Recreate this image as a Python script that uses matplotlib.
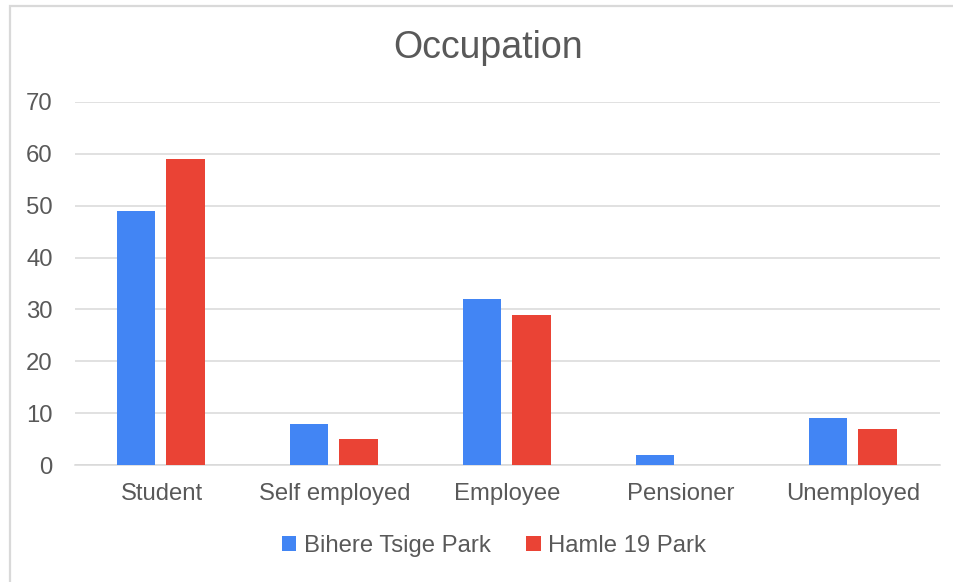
import matplotlib
matplotlib.use('Agg')
from matplotlib import pyplot as plt
from matplotlib.patches import Rectangle
import numpy as np

categories = ["Student", "Self employed", "Employee", "Pensioner", "Unemployed"]
bihere = [49, 8, 32, 2, 9]
hamle = [59, 5, 29, 0, 7]
series_names = ["Bihere Tsige Park", "Hamle 19 Park"]
yticks = [0, 10, 20, 30, 40, 50, 60, 70]

blue = "#4285F4"
red = "#EA4335"
textcol = "#595959"
gridcol = "#D9D9D9"

plt.rcParams['font.family'] = ['Liberation Sans', 'DejaVu Sans']

fig = plt.figure(figsize=(9.54, 5.82), dpi=100)
fig.patch.set_facecolor("white")

# outer chart border (only left/top visible, rest runs off the image)
fig.patches.append(Rectangle((10/954, -0.05), 1.1, (582-6)/582 + 0.05,
                             transform=fig.transFigure, fill=False,
                             edgecolor="#D9D9D9", linewidth=1.6))

ax = fig.add_axes([75/954, (582-465)/582, (940-75)/954, (465-102)/582])

x = np.arange(len(categories))
w = 0.225
off = w/2 + 0.03
ax.bar(x - off - 0.005, bihere, w, color=blue, label=series_names[0], zorder=3)
ax.bar(x + off - 0.005, hamle, w, color=red, label=series_names[1], zorder=3)

ax.set_xlim(-0.5, len(categories) - 0.5)
ax.set_ylim(0, 70)
ax.set_yticks(yticks)
ax.set_xticks(x)
ax.set_xticklabels(categories)
ax.tick_params(axis='both', length=0, labelsize=17.2, colors=textcol)
ax.tick_params(axis='y', pad=16)
ax.tick_params(axis='x', pad=13)
ax.grid(axis='y', color=gridcol, linewidth=1.1, zorder=0)
for s in ['top', 'right', 'left']:
    ax.spines[s].set_visible(False)
ax.spines['bottom'].set_color(gridcol)
ax.spines['bottom'].set_linewidth(1.1)

fig.text(488/954, 1 - 48/582, "Occupation", ha='center', va='center',
         fontsize=27, color=textcol)

leg = ax.legend(loc='center', bbox_to_anchor=(494/954, 1 - 546/582),
                bbox_transform=fig.transFigure, ncol=2, frameon=False,
                fontsize=17.2, handlelength=0.6, handleheight=0.6,
                handletextpad=0.3, columnspacing=1.5)
for t in leg.get_texts():
    t.set_color(textcol)

plt.savefig("out.png", dpi=100)
plt.close()
